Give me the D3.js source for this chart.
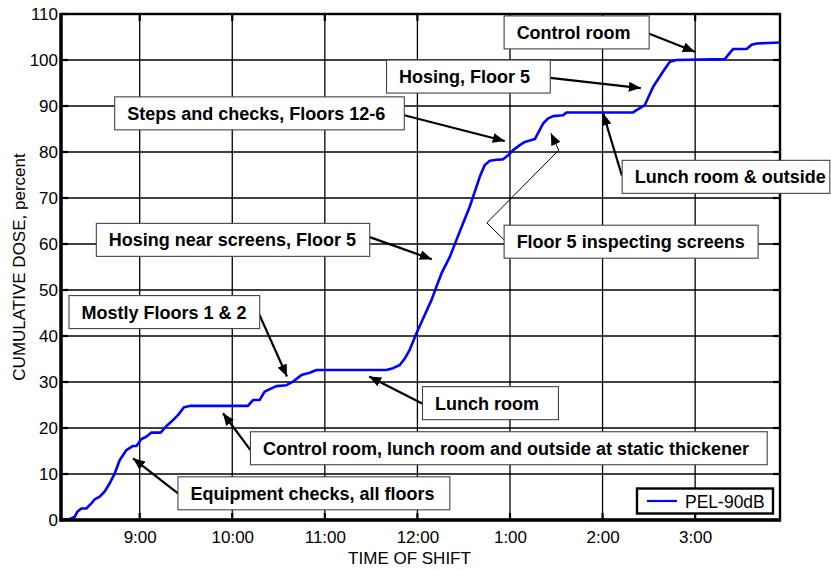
<!DOCTYPE html>
<html>
<head>
<meta charset="utf-8">
<script src="https://cdn.jsdelivr.net/npm/d3@7"></script>
<style>
  html, body { margin: 0; padding: 0; background: #fff; }
  svg { display: block; font-family: "Liberation Sans", Arial, sans-serif; }
</style>
</head>
<body>
<svg id="chart" width="831" height="571"></svg>
<script>
// ---- Data (time in minutes after 8:00 AM, cumulative dose in percent) ----
const timeMinutes = [9, 14.6, 17.9, 19.6, 22.2, 25.4, 28.7, 30.8, 34.1, 37.3, 40.6, 43.8, 47, 51.4, 55.7, 57.9,
  61.1, 64.3, 67.6, 73.6, 77.3, 80.6, 84.8, 88.7, 92.4, 130.2, 133.5, 137.8, 141, 145.4, 148.6, 155.1,
  159.4, 164.8, 170.2, 174.6, 219.9, 224.2, 228.6, 231.8, 235, 239.4, 243.7, 249.1, 252.3, 255.6, 261,
  265.3, 269.6, 273.9, 277.2, 280.4, 283.7, 286.9, 291.3, 295.5, 298.8, 302, 306.4, 309.6, 313.9, 316.1,
  319.3, 321.5, 324.7, 328, 334.4, 336.6, 379.8, 382, 387.4, 392.8, 399.2, 403.6, 407.9, 439.2, 441.4,
  444.7, 453.4, 456.6, 459.9, 475];
const dosePct = [0, 0.2, 0.7, 1.8, 2.5, 2.5, 3.6, 4.5, 5.1, 6.2, 8.0, 10.1, 13.0, 15.2, 16.1, 16.1,
  17.6, 18.1, 19.0, 19.0, 20.4, 21.4, 22.8, 24.5, 24.8, 24.8, 26.1, 26.1, 27.9, 28.6, 29.1, 29.3,
  30.1, 31.5, 32.0, 32.6, 32.6, 33.0, 33.7, 35.1, 37.0, 40.6, 43.8, 47.8, 50.7, 53.6, 57.2,
  60.9, 64.5, 68.1, 71.4, 74.6, 77.2, 78.1, 78.3, 78.4, 79.3, 80.4, 81.5, 82.2, 82.6, 82.8,
  84.8, 86.2, 87.3, 87.8, 88.0, 88.6, 88.6, 89.1, 90.2, 94.2, 97.5, 99.6, 100, 100.2, 101.1,
  102.4, 102.4, 103.3, 103.6, 103.8];
const seriesName = "PEL-90dB";
const timeDomain = [9, 475];
const doseDomain = [0, 110];
const hourTicks = [60, 120, 180, 240, 300, 360, 420];
const hourLabels = ["9:00", "10:00", "11:00", "12:00", "1:00", "2:00", "3:00"];
const doseTicks = [0, 10, 20, 30, 40, 50, 60, 70, 80, 90, 100, 110];
const xTitle = "TIME OF SHIFT";
const yTitle = "CUMULATIVE DOSE, percent";

// ---- Annotations (text + anchor points in data coordinates) ----
const annotationTexts = [
  "Control room", "Hosing, Floor 5", "Steps and checks, Floors 12-6", "Hosing near screens, Floor 5",
  "Floor 5 inspecting screens", "Lunch room & outside", "Mostly Floors 1 & 2", "Lunch room",
  "Control room, lunch room and outside at static thickener", "Equipment checks, all floors"
];
// box: [x0, x1] minutes, yc dose (centre); path: list of [minutes, dose], last point = arrow tip
const annotationLayout = [
  { box: [296.2, 390.2], yc: 106.0, path: [[389.5, 105.8], [419.8, 101.8]] },
  { box: [220.0, 326.1], yc: 96.4, path: [[326.1, 96.1], [384.8, 93.9]] },
  { box: [43.8, 231.5], yc: 88.4, path: [[231.5, 88.0], [296.6, 82.4]] },
  { box: [31.9, 209.1], yc: 60.9, path: [[209.1, 61.5], [249.3, 56.7]] },
  { box: [296.2, 460.8], yc: 60.5, path: [[296.2, 60.9], [285.0, 64.6], [331.6, 80.4], [326.5, 84.1]], thin: true },
  { box: [372.7, 507.3], yc: 74.6, path: [[372.5, 74.9], [360.4, 88.4]] },
  { box: [14.2, 137.8], yc: 45.2, path: [[136.7, 45.3], [155.5, 31.2]] },
  { box: [243.3, 331.4], yc: 25.4, path: [[243.7, 25.2], [208.7, 31.2]] },
  { box: [131.8, 466.7], yc: 15.6, path: [[131.8, 15.2], [114.0, 23.2]] },
  { box: [84.8, 261.0], yc: 5.8, path: [[84.8, 5.8], [55.7, 13.4]] }
];

// ---- Layout ----
const W = 831, H = 571;
const margin = { left: 61, right: 51, top: 14, bottom: 51 };
const svg = d3.select("#chart");
const x = d3.scaleLinear().domain(timeDomain).range([margin.left, W - margin.right]);
const y = d3.scaleLinear().domain(doseDomain).range([H - margin.bottom, margin.top]);
const x0 = x.range()[0], x1 = x.range()[1], y0 = y.range()[0], y1 = y.range()[1];

const defs = svg.append("defs");
defs.append("clipPath").attr("id", "plotclip")
  .append("rect").attr("x", x0).attr("y", y1).attr("width", x1 - x0).attr("height", y0 - y1);
defs.append("marker").attr("id", "arrow").attr("markerUnits", "userSpaceOnUse")
  .attr("viewBox", "0 0 12 10").attr("refX", 12).attr("refY", 5)
  .attr("markerWidth", 12).attr("markerHeight", 10).attr("orient", "auto")
  .append("path").attr("d", "M0,0 L12,5 L0,10 Z").attr("fill", "#000");

// grid
const grid = svg.append("g");
grid.selectAll("line.h").data(doseTicks).join("line")
  .attr("x1", x0).attr("x2", x1).attr("y1", d => y(d)).attr("y2", d => y(d))
  .attr("stroke", "#000").attr("stroke-width", 1.3);
grid.selectAll("line.v").data(hourTicks).join("line")
  .attr("x1", d => x(d)).attr("x2", d => x(d)).attr("y1", y1).attr("y2", y0)
  .attr("stroke", "#000").attr("stroke-width", 1.3);

// axes (tick labels)
const xAxis = d3.axisBottom(x).tickValues(hourTicks).tickFormat((d, i) => hourLabels[i]).tickSize(0).tickPadding(11);
const yAxis = d3.axisLeft(y).tickValues(doseTicks).tickSize(0).tickPadding(3);
const gx = svg.append("g").attr("transform", `translate(0,${y0})`).call(xAxis);
const gy = svg.append("g").attr("transform", `translate(${x0},0)`).call(yAxis);
[gx, gy].forEach(g => {
  g.select(".domain").remove();
  g.selectAll("text").attr("font-size", 17).attr("fill", "#000")
    .attr("font-family", "'Liberation Sans', Arial, sans-serif");
});

// tick marks (inward) on all four sides
const tk = svg.append("g").attr("stroke", "#000").attr("stroke-width", 2.2);
tk.selectAll("line.r").data(doseTicks).join("line")
  .attr("x1", x1 - 7).attr("x2", x1).attr("y1", d => y(d)).attr("y2", d => y(d));
tk.selectAll("line.l").data(doseTicks).join("line")
  .attr("x1", x0).attr("x2", x0 + 7).attr("y1", d => y(d)).attr("y2", d => y(d));
tk.selectAll("line.t").data(hourTicks).join("line")
  .attr("x1", d => x(d)).attr("x2", d => x(d)).attr("y1", y1).attr("y2", y1 + 7);
tk.selectAll("line.b").data(hourTicks).join("line")
  .attr("x1", d => x(d)).attr("x2", d => x(d)).attr("y1", y0 - 7).attr("y2", y0);

// data line
const pts = timeMinutes.map((t, i) => [t, dosePct[i]]);
svg.append("path").datum(pts)
  .attr("clip-path", "url(#plotclip)")
  .attr("fill", "none").attr("stroke", "#0000ff").attr("stroke-width", 2.6)
  .attr("stroke-linejoin", "round")
  .attr("d", d3.line().x(d => x(d[0])).y(d => y(d[1])));

// frame
svg.append("rect").attr("x", x0).attr("y", y1).attr("width", x1 - x0).attr("height", y0 - y1)
  .attr("fill", "none").attr("stroke", "#000").attr("stroke-width", 2.4);
svg.append("line").attr("x1", x0).attr("x2", x0).attr("y1", y1 - 1).attr("y2", y0 + 1.5)
  .attr("stroke", "#000").attr("stroke-width", 3.4);
svg.append("line").attr("x1", x0 - 1.5).attr("x2", x1 + 1).attr("y1", y0).attr("y2", y0)
  .attr("stroke", "#000").attr("stroke-width", 3.4);

// annotations
const boxH = 33;
const ann = svg.append("g");
annotationLayout.forEach((a, i) => {
  const g = ann.append("g");
  const line = d3.line().x(d => x(d[0])).y(d => y(d[1]));
  g.append("path").datum(a.path)
    .attr("d", line).attr("fill", "none").attr("stroke", "#000")
    .attr("stroke-width", a.thin ? 1 : 2.2)
    .attr("marker-end", "url(#arrow)");
  const bx = x(a.box[0]), bw = x(a.box[1]) - x(a.box[0]), by = y(a.yc) - boxH / 2;
  g.append("rect").attr("x", bx).attr("y", by).attr("width", bw).attr("height", boxH)
    .attr("fill", "#fff").attr("stroke", "#444").attr("stroke-width", 1.1);
  g.append("text").attr("x", bx + 12.5).attr("y", y(a.yc) + 6.5)
    .attr("font-size", 18).attr("font-weight", "bold").attr("fill", "#000")
    .text(annotationTexts[i]);
});

// legend
const lg = svg.append("g").attr("transform", `translate(${x1 - 143},${y0 - 31.5})`);
lg.append("rect").attr("x", 0).attr("y", 0).attr("width", 136).attr("height", 25)
  .attr("fill", "#fff").attr("stroke", "#000").attr("stroke-width", 2.4);
lg.append("line").attr("x1", 10).attr("x2", 40).attr("y1", 12.5).attr("y2", 12.5)
  .attr("stroke", "#0000ff").attr("stroke-width", 2.2);
lg.append("text").attr("x", 48).attr("y", 19).attr("font-size", 17.5).attr("fill", "#000").text(seriesName);

// axis titles
svg.append("text").attr("x", (x0 + x1) / 2 - 11).attr("y", 564).attr("text-anchor", "middle")
  .attr("font-size", 17).attr("fill", "#000").text(xTitle);
svg.append("text").attr("transform", `translate(25,${(y0 + y1) / 2}) rotate(-90)`)
  .attr("text-anchor", "middle").attr("font-size", 17).attr("fill", "#000").text(yTitle);
</script>
</body>
</html>
